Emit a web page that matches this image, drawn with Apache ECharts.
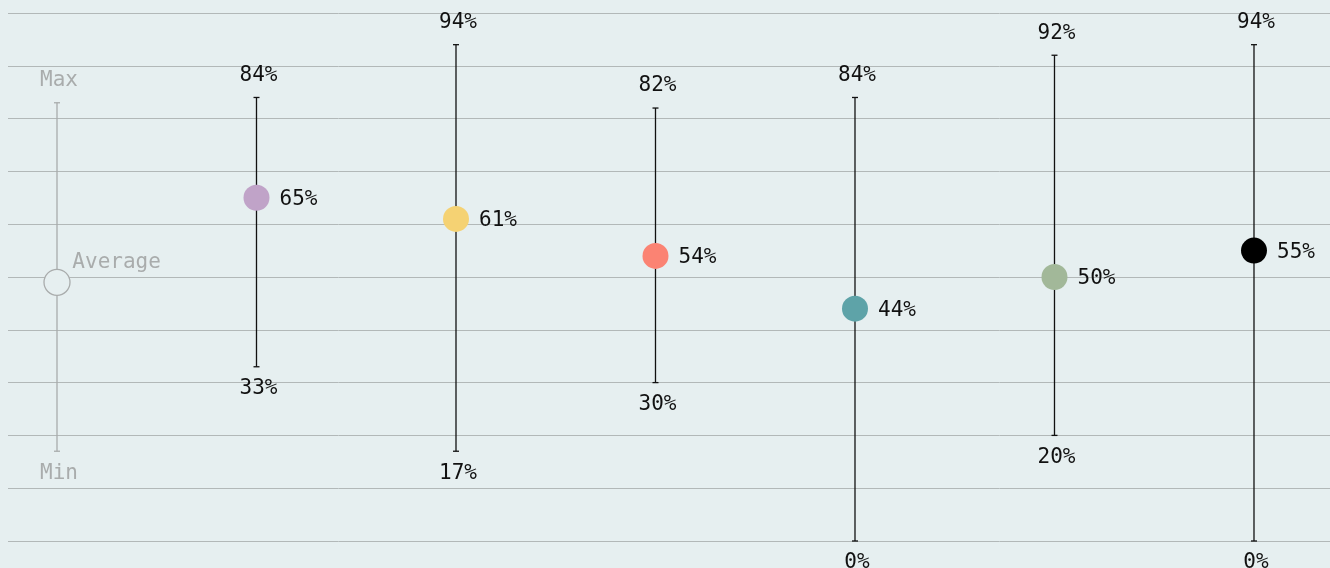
<!DOCTYPE html>
<html>
<head>
<meta charset="utf-8">
<script src="https://cdn.jsdelivr.net/npm/echarts@6/dist/echarts.min.js"></script>
<style>
  html, body { margin: 0; padding: 0; background: #e6eff0; }
  #chart { width: 1330px; height: 568px; }
</style>
</head>
<body>
<div id="chart"></div>
<script>
// first entry is the key (Max / Average / Min), the rest are the data columns
var positions = [0, 1, 2, 3, 4, 5, 6];
var maxValues = [83, 84, 94, 82, 84, 92, 94];
var minValues = [17, 33, 17, 30, 0, 20, 0];
var avgValues = [49, 65, 61, 54, 44, 50, 55];
var dotColors = ["none", "#c0a3c8", "#f5d273", "#fb8373", "#5ea3a8", "#a2b899", "#000000"];
var keyLabels = { max: "Max", min: "Min", avg: "Average" };

var FONT = '"DejaVu Sans Mono", monospace';
var FONT_SIZE = 21;
var INK = "#111111";
var KEY = "#a9acac";

var chart = echarts.init(document.getElementById("chart"));

function pct(v) {
  return v + "%";
}

var rangeData = positions.map(function (p, i) {
  return [p, minValues[i], maxValues[i]];
});

var dotData = positions.map(function (p, i) {
  var item = { value: [p, avgValues[i]] };
  if (i === 0) {
    item.itemStyle = { color: "#e6eff0", borderColor: KEY, borderWidth: 1.3 };
    item.label = {
      formatter: keyLabels.avg,
      color: KEY,
      position: [29, -19]
    };
  } else {
    item.itemStyle = { color: dotColors[i] };
  }
  return item;
});

chart.setOption({
  backgroundColor: "#e6eff0",
  animation: false,
  grid: { left: 8, right: 0, top: 13, bottom: 27 },
  xAxis: {
    type: "value",
    min: -0.2456,
    max: 6.381,
    show: false
  },
  yAxis: {
    type: "value",
    min: 0,
    max: 100,
    interval: 10,
    axisLine: { show: false },
    axisTick: { show: false },
    axisLabel: { show: false },
    splitLine: { lineStyle: { color: "#b2b8b8", width: 1 } }
  },
  series: [
    {
      type: "custom",
      clip: false,
      data: rangeData,
      renderItem: function (params, api) {
        var i = params.dataIndex;
        var x = api.coord([api.value(0), 0])[0];
        var yMin = api.coord([0, api.value(1)])[1];
        var yMax = api.coord([0, api.value(2)])[1];
        var color = i === 0 ? KEY : INK;
        var stroke = { stroke: color, lineWidth: 1.3 };
        var cap = 3;
        return {
          type: "group",
          children: [
            { type: "line", shape: { x1: x, y1: yMax, x2: x, y2: yMin }, style: stroke },
            { type: "line", shape: { x1: x - cap, y1: yMax, x2: x + cap, y2: yMax }, style: stroke },
            { type: "line", shape: { x1: x - cap, y1: yMin, x2: x + cap, y2: yMin }, style: stroke },
            {
              type: "text",
              x: x + 2,
              y: yMax - 22,
              style: {
                text: i === 0 ? keyLabels.max : pct(api.value(2)),
                fill: color,
                font: FONT_SIZE + "px " + FONT,
                align: "center",
                verticalAlign: "middle"
              }
            },
            {
              type: "text",
              x: x + 2,
              y: yMin + 22,
              style: {
                text: i === 0 ? keyLabels.min : pct(api.value(1)),
                fill: color,
                font: FONT_SIZE + "px " + FONT,
                align: "center",
                verticalAlign: "middle"
              }
            }
          ]
        };
      },
      z: 2
    },
    {
      type: "scatter",
      data: dotData,
      symbol: "circle",
      symbolSize: 26,
      itemStyle: { opacity: 1 },
      emphasis: { disabled: true },
      label: {
        show: true,
        position: "right",
        distance: 10,
        offset: [0, 2],
        color: INK,
        fontFamily: FONT,
        fontSize: FONT_SIZE,
        formatter: function (p) {
          return pct(p.value[1]);
        }
      },
      z: 3
    }
  ]
});
</script>
</body>
</html>
